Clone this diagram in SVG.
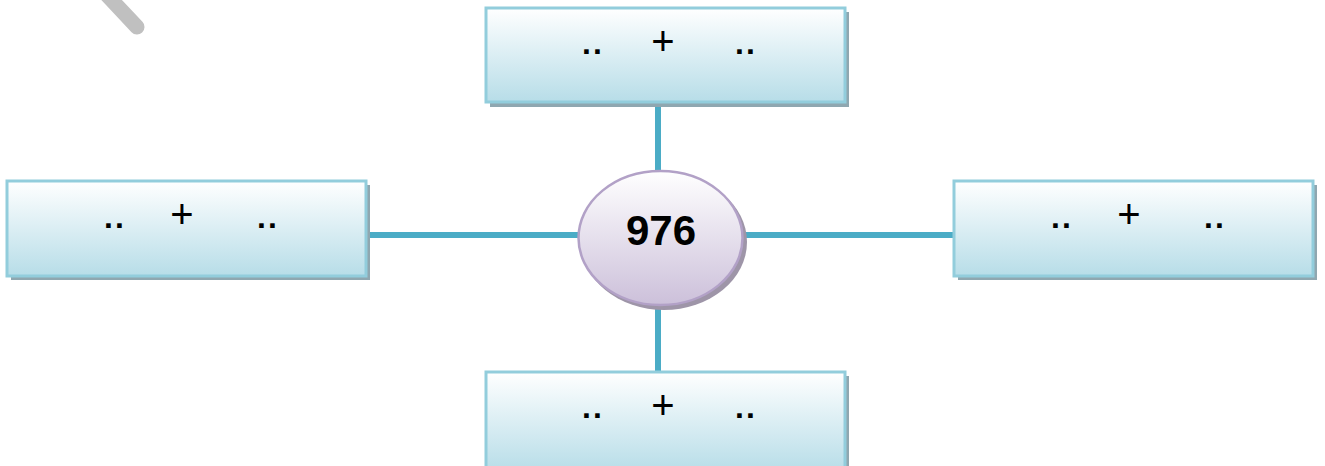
<svg xmlns="http://www.w3.org/2000/svg" width="1325" height="466" viewBox="0 0 1325 466">
<defs>
<linearGradient id="gb" x1="0" y1="0" x2="0" y2="1">
<stop offset="0" stop-color="#ffffff"/>
<stop offset="1" stop-color="#b7dde8"/>
</linearGradient>
<linearGradient id="ge" x1="0" y1="0" x2="0" y2="1">
<stop offset="0" stop-color="#ffffff"/>
<stop offset="1" stop-color="#ccc0da"/>
</linearGradient>
</defs>
<style>
.box{fill:url(#gb);stroke:#92cddc;stroke-width:3}
.sh{fill:#8fa7b0}
.conn{stroke:#4bacc6;stroke-width:6;fill:none}
.t{font-family:"Liberation Sans",Arial,sans-serif;font-weight:bold;fill:#000}
.d{font-size:32px;letter-spacing:2px}
.p{font-size:40px;font-weight:normal}
</style>
<rect width="1325" height="466" fill="#ffffff"/>
<line x1="106" y1="-6" x2="137" y2="27" stroke="#c0c0c0" stroke-width="15" stroke-linecap="round"/>
<g id="connectors">
<line class="conn" x1="658" y1="100" x2="658" y2="172"/>
<line class="conn" x1="658" y1="305" x2="658" y2="374"/>
<line class="conn" x1="364" y1="235" x2="579" y2="235"/>
<line class="conn" x1="742" y1="235" x2="956" y2="235"/>
</g>
<g id="top">
<rect class="sh" x="490" y="12" width="359" height="95"/>
<rect class="box" x="486" y="8" width="359" height="94"/>
<text class="t d" x="582" y="54">..</text>
<text class="t p" x="663" y="55" text-anchor="middle">+</text>
<text class="t d" x="735" y="54">..</text>
</g>
<g id="left">
<rect class="sh" x="11" y="185" width="359" height="95"/>
<rect class="box" x="7" y="181" width="359" height="95"/>
<text class="t d" x="104" y="228">..</text>
<text class="t p" x="182" y="228" text-anchor="middle">+</text>
<text class="t d" x="257" y="228">..</text>
</g>
<g id="right">
<rect class="sh" x="958" y="185" width="359" height="95"/>
<rect class="box" x="954" y="181" width="359" height="95"/>
<text class="t d" x="1051" y="228">..</text>
<text class="t p" x="1129" y="228" text-anchor="middle">+</text>
<text class="t d" x="1204" y="228">..</text>
</g>
<g id="bottom">
<rect class="sh" x="490" y="376" width="359" height="95"/>
<rect class="box" x="486" y="372" width="359" height="100"/>
<text class="t d" x="582" y="418">..</text>
<text class="t p" x="663" y="419" text-anchor="middle">+</text>
<text class="t d" x="735" y="418">..</text>
</g>
<g id="center">
<ellipse cx="664" cy="242" rx="83" ry="68" fill="#9e95a8"/>
<ellipse cx="660.5" cy="238" rx="82" ry="67" fill="url(#ge)" stroke="#b2a1c7" stroke-width="2.5"/>
<text class="t" x="661" y="245" font-size="42" text-anchor="middle">976</text>
</g>
</svg>
